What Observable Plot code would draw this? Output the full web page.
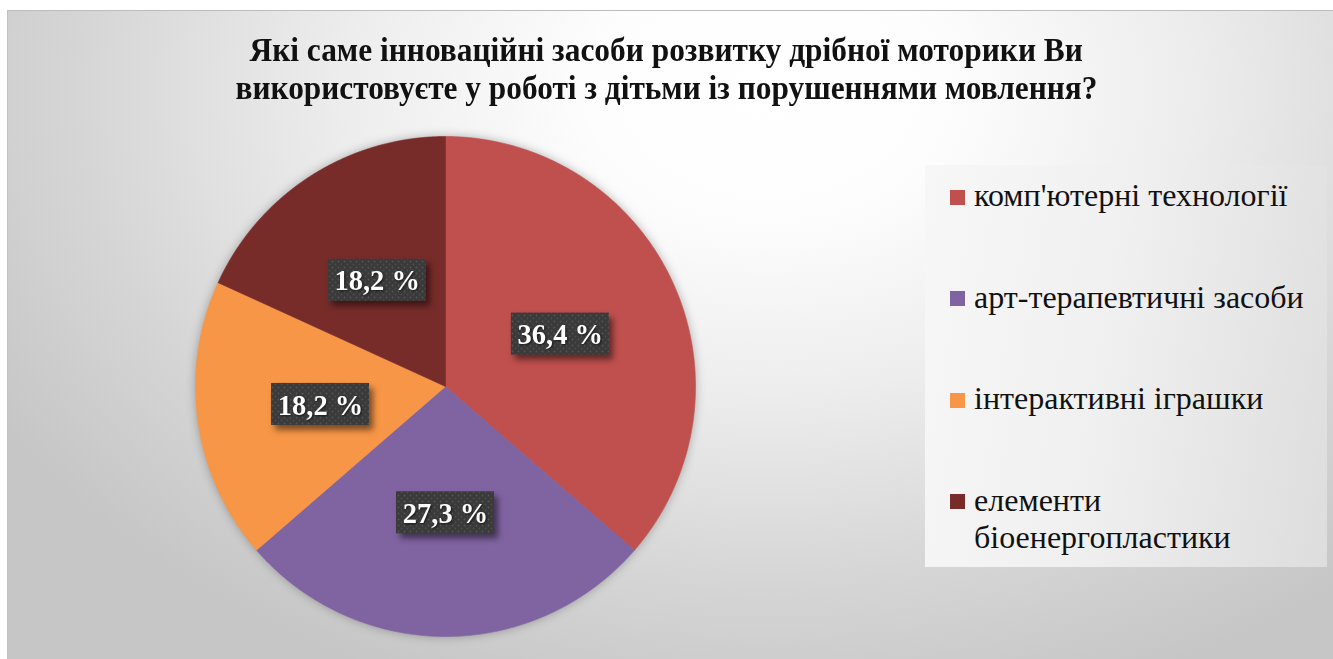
<!DOCTYPE html>
<html>
<head>
<meta charset="utf-8">
<script src="https://cdn.jsdelivr.net/npm/d3@7"></script>
<script src="https://cdn.jsdelivr.net/npm/@observablehq/plot@0.6"></script>
<style>
  body { margin: 0; background: #ffffff; width: 1333px; height: 659px; overflow: hidden; position: relative; }
  #frame {
    position: absolute; left: 7px; top: 10px; width: 1326px; height: 649px; box-sizing: border-box;
    border-top: 1px solid #bcbcbc; border-left: 1px solid #c2c2c2;
    background: radial-gradient(ellipse 900px 640px at 760px 80px, #ffffff 0%, #fdfdfd 20%, #ededed 47%, #d6d6d6 76%, #c6c6c6 100%);
  }
  .title {
    position: absolute; left: 0; width: 1333px; text-align: center;
    font-family: "Liberation Serif", "Times New Roman", serif; font-weight: bold; font-size: 34px; color: #111;
    line-height: 38px; white-space: nowrap;
  }
  .title span { display: inline-block; transform-origin: center center; }
  #legend {
    position: absolute; left: 925px; top: 165px; width: 402px; height: 402px;
    background: linear-gradient(100deg, #f7f7f7 0%, #f0f0f0 45%, #dddddd 100%);
  }
  .lg-sw { position: absolute; width: 15px; height: 15px; }
  .lg-tx {
    position: absolute; width: 345px; font-family: "Liberation Serif", "Times New Roman", serif;
    font-size: 32px; line-height: 37px; color: #111;
  }
  #pie { position: absolute; left: 175px; top: 116px; }
  #pie g[aria-label="line"] { filter: drop-shadow(0 0 5px rgba(0,0,0,0.28)); }
  #pie g[aria-label="rect"] { filter: drop-shadow(4px 5px 3px rgba(0,0,0,0.5)); }
  #pie g[aria-label="text"] { filter: drop-shadow(1px 1px 1px rgba(0,0,0,0.6)); }
</style>
</head>
<body>
<svg width="0" height="0" style="position:absolute">
  <defs>
    <pattern id="dots" width="6" height="6" patternUnits="userSpaceOnUse">
      <rect width="6" height="6" fill="#3a3a3a"></rect>
      <circle cx="1.5" cy="1.5" r="0.9" fill="#555555"></circle>
      <circle cx="4.5" cy="4.5" r="0.9" fill="#4c4c4c"></circle>
    </pattern>
  </defs>
</svg>
<div id="frame"></div>
<div class="title" id="t1" style="top:31px"><span>Які саме інноваційні засоби розвитку дрібної моторики Ви</span></div>
<div class="title" id="t2" style="top:69px"><span>використовуєте у роботі з дітьми із порушеннями мовлення?</span></div>
<div id="legend"></div>
<div id="pie"></div>
<script>
// ---- data ----
const categories = ["комп'ютерні технології", "арт-терапевтичні засоби", "інтерактивні іграшки", "елементи біоенергопластики"];
const shares = [36.4, 27.3, 18.2, 18.2];
const valueLabels = ["36,4 %", "27,3 %", "18,2 %", "18,2 %"];
const colors = ["#C0504D", "#8064A2", "#F79646", "#772C2A"];

// ---- title width fit (condensed look) ----
[["t1", 833], ["t2", 862]].forEach(([id, w]) => {
  const s = document.querySelector("#" + id + " span");
  s.style.transform = `scaleX(${w / s.offsetWidth})`;
});

// ---- legend ----
const colorScale = Plot.scale({color: {type: "ordinal", domain: categories, range: colors}});
const legend = document.getElementById("legend");
categories.forEach((c, i) => {
  const cy = 32 + i * 101.5; // center of first line, relative to legend box
  const sw = document.createElement("div");
  sw.className = "lg-sw";
  sw.style.left = "25px";
  sw.style.top = (cy - 7.5) + "px";
  sw.style.background = colorScale.apply(c);
  legend.appendChild(sw);
  const tx = document.createElement("div");
  tx.className = "lg-tx";
  tx.style.left = "49px";
  tx.style.top = (cy - 20) + "px";
  tx.textContent = c;
  legend.appendChild(tx);
});

// ---- pie geometry from data ----
const R = 250, half = 270;
const arcs = d3.pie().sort(null).value(d => d)(shares);
const slicePoints = arcs.flatMap((a, i) => {
  const n = Math.max(2, Math.ceil((a.endAngle - a.startAngle) / (Math.PI / 720)));
  const pts = [{cat: categories[i], x: 0, y: 0}];
  for (let k = 0; k <= n; k++) {
    const t = a.startAngle + (a.endAngle - a.startAngle) * k / n;
    pts.push({cat: categories[i], x: Math.sin(t), y: Math.cos(t)});
  }
  pts.push({cat: categories[i], x: 0, y: 0});
  return pts;
});
const labelPos = arcs.map((a, i) => {
  const m = (a.startAngle + a.endAngle) / 2;
  return {label: valueLabels[i], x: 0.505 * Math.sin(m), y: 0.505 * Math.cos(m)};
});
const bw = 49 / R, bh = 21 / R;

const chart = Plot.plot({
  width: 2 * half, height: 2 * half, margin: 0,
  style: {background: "transparent", overflow: "visible"},
  x: {domain: [-half / R, half / R], axis: null},
  y: {domain: [-half / R, half / R], axis: null},
  color: {type: "ordinal", domain: categories, range: colors},
  marks: [
    Plot.line(slicePoints, {x: "x", y: "y", z: "cat", fill: "cat", stroke: "cat", strokeWidth: 0.6, curve: "linear"}),
    Plot.rect(labelPos, {x1: d => d.x - bw, x2: d => d.x + bw, y1: d => d.y - bh, y2: d => d.y + bh, fill: "url(#dots)"}),
    Plot.text(labelPos, {x: "x", y: "y", dy: 1, text: "label", fill: "white", fontWeight: "bold", fontSize: 28.5,
      fontFamily: "Liberation Serif, Times New Roman, serif"})
  ]
});
document.getElementById("pie").appendChild(chart);
</script>
</body>
</html>
